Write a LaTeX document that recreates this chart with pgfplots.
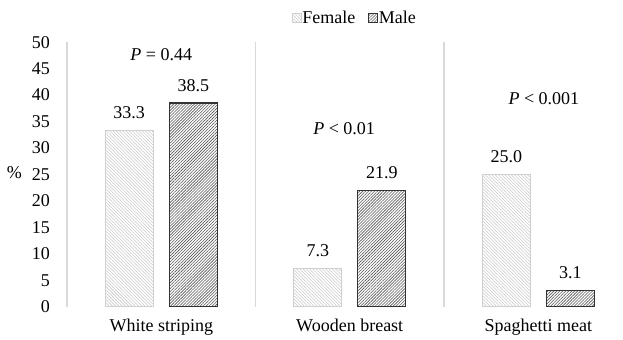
\documentclass[border=0pt]{standalone}
\usepackage{pgfplots}
\pgfplotsset{compat=1.18}
\usetikzlibrary{patterns.meta}
\usepackage{fontspec}
\setmainfont{Liberation Serif}
\definecolor{femline}{HTML}{C8C8C8}
\definecolor{femborder}{HTML}{D0D0D0}
\definecolor{maleline}{HTML}{555555}
\definecolor{maleborder}{HTML}{333333}
\definecolor{sepgray}{HTML}{D9D9D9}
\newcommand{\fs}{\fontsize{18bp}{21bp}\selectfont}
\begin{document}
\fs
\begin{tikzpicture}
\begin{axis}[
  name=ax,
  scale only axis,
  width=565.5bp, height=264.5bp,
  xmin=-0.5, xmax=2.5, ymin=0, ymax=50,
  ybar, bar width=48bp,
  xtick={0,1,2},
  xticklabels={White striping, Wooden breast, Spaghetti meat},
  minor xtick={0.5,1.5},
  xminorgrids,
  minor grid style={draw=sepgray, line width=1.3bp},
  major tick length=0pt, minor tick length=0pt,
  ytick={0,5,...,50},
  separate axis lines,
  axis x line*=bottom,
  axis y line*=left,
  x axis line style={draw=none},
  y axis line style={draw=sepgray, line width=1.3bp, -},
  /pgf/number format/assume math mode=true,
  tick label style={font=\fs},
  yticklabel style={xshift=-11bp},
  xticklabel style={yshift=-6bp},
  legend columns=2,
  legend style={at={(0.508,1)}, anchor=center, yshift=24bp, draw=none, fill=none,
    inner sep=0pt, font=\fs,
    nodes={inner sep=1bp}},
  /tikz/every even column/.append style={column sep=12bp},
  legend image code/.code={\draw[#1, line width=0.7bp] (0bp,-4.5bp) rectangle (9bp,4.5bp);},
  nodes near coords={\pgfmathprintnumber[fixed,fixed zerofill,precision=1,assume math mode=true]{\pgfplotspointmeta}},
  every node near coord/.append style={yshift=5bp, font=\fs, color=black},
  clip=false,
]
\addplot[bar shift=-32bp, draw=femborder, line width=1bp,
  pattern={Lines[angle=-45,distance=2.3bp,line width=0.55bp]}, pattern color=femline]
  coordinates {(0,33.3) (1,7.3) (2,25.0)};
\addplot[bar shift=32bp, draw=maleborder, line width=1.2bp,
  pattern={Lines[angle=45,distance=2.1bp,line width=0.6bp]}, pattern color=maleline]
  coordinates {(0,38.5) (1,21.9) (2,3.1)};
\legend{Female, Male}
\node[font=\fs] at (axis cs:0,47.6) {\textit{P} = 0.44};
\node[font=\fs] at (axis cs:0.97,33.6) {\textit{P} < 0.01};
\node[font=\fs] at (axis cs:2.03,39.4) {\textit{P} < 0.001};
\node[anchor=base east, inner sep=0pt, xshift=-45bp, font=\fs] at (axis cs:-0.5,24.2) {\%};
\end{axis}
\pgfresetboundingbox
\useasboundingbox (ax.south west) ++(-67bp,-33.3bp) rectangle ++(623bp,340bp);
\end{tikzpicture}
\end{document}
